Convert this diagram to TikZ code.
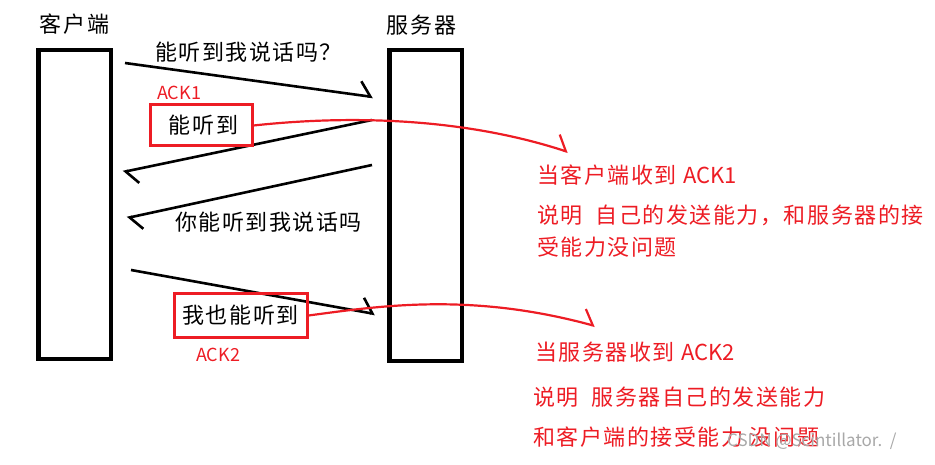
\documentclass[tikz,border=0pt]{standalone}
\usepackage{fontspec}
\setmainfont[LetterSpace=7]{Noto Sans CJK SC}
\newfontfamily\ackfont{Noto Sans CJK SC}
\usepackage{xcolor}
\usepackage{tikz}
\usetikzlibrary{arrows.meta,positioning}
\definecolor{redx}{HTML}{ED1C24}
\definecolor{markgray}{HTML}{A8A8A8}
\tikzset{
  life/.style={draw,line width=4.5pt,minimum width=72.5pt,inner sep=0},
  msg/.style={-{Straight Barb[harpoon,length=11pt,width=28pt]},line width=2.6pt},
  lbl/.style={font=\fontsize{22pt}{26pt}\selectfont,inner sep=0},
  ack/.style={font=\ackfont\fontsize{18pt}{22pt}\selectfont,text=redx,inner sep=0},
  tag/.style={draw=redx,line width=3pt,font=\fontsize{22pt}{26pt}\selectfont,inner sep=0},
  note/.style={lbl,text=redx,anchor=west},
  link/.style={-{Straight Barb[harpoon,length=11pt,width=28pt]},redx,line width=2.2pt}
}

\begin{document}
\begin{tikzpicture}[x=1pt,y=-1pt]
\useasboundingbox (0,0) rectangle (935,465);
\node[life,minimum height=308.5pt] (client) at (74.5,204.5) {};
\node[life,minimum height=310.5pt] (server) at (425.5,205.5) {};
\node[lbl,above=13pt of client] (cname) {客户端};
\node[lbl,above=13pt of server,xshift=-4pt] (sname) {服务器};
\coordinate (m1s) at (125,63);  \coordinate (m1e) at (373,97);
\coordinate (m2s) at (372,120); \coordinate (m2e) at (123,172);
\coordinate (m3s) at (372,165); \coordinate (m3e) at (127,218);
\coordinate (m4s) at (131,270); \coordinate (m4e) at (375,314);
\draw[msg] (m1s) -- (m1e);
\draw[msg] (m2s) -- (m2e);
\draw[msg] (m3s) -- (m3e);
\draw[msg] (m4s) -- (m4e);
\node[lbl,anchor=west] (q1) at (155,52) {能听到我说话吗？};
\node[ack,anchor=west] (ack1) at (157,93) {ACK1};
\node[tag,minimum width=102pt,minimum height=41pt] (ack1box) at (201,125.5) {\hspace{5pt}能听到};
\node[lbl,anchor=west] (q2) at (175,222) {你能听到我说话吗};
\node[tag,minimum width=133pt,minimum height=43pt] (ack2box) at (240.5,315.5) {我也能听到};
\node[ack,anchor=west] (ack2) at (196,355) {ACK2};
\coordinate (tip1) at (568,152);
\coordinate (tip2) at (595,326);
\draw[link] (ack1box.east) .. controls (360,114) and (470,120) .. (tip1);
\draw[link] (ack2box.east) .. controls (380,306) and (470,292) .. (tip2);
\node[note] (n1a) at (537,175) {当客户端收到 {\ackfont ACK1}};
\node[note] (n1b) at (537,215) {说明\ \ 自己的发送能力，和服务器的接};
\node[note] (n1c) at (537,247) {受能力没问题};
\node[note] (n2a) at (535,352) {当服务器收到 {\ackfont ACK2}};
\node[note] (n2b) at (533,397) {说明\ \ 服务器自己的发送能力};
\node[note] (n2c) at (533,437) {和客户端的接受能力\ 没问题};
\node[anchor=west,inner sep=0,text=markgray,font=\ackfont\fontsize{17pt}{20pt}\selectfont] (wm) at (727,441) {CSDN @Scintillator.\ \ /};
\end{tikzpicture}
\end{document}
